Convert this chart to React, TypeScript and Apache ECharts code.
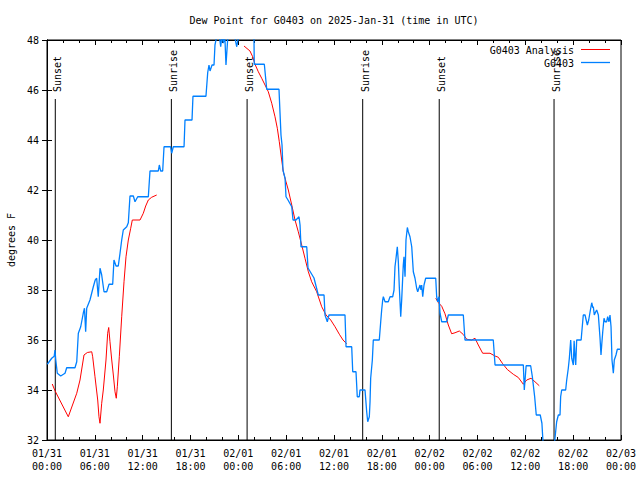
import React, { useEffect, useRef } from "react";
import * as echarts from "echarts";

const titleText = "Dew Point for G0403 on 2025-Jan-31 (time in UTC)";
const yAxisName = "degrees F";
const analysisName = "G0403 Analysis";
const observedName = "G0403";
const dayLabels = ["01/31", "02/01", "02/02", "02/03"];

// hours since 2025-01-31 00:00 UTC, dew point (F)
const observed: [number, number][] = [
  [0.04, 35.03], [0.59, 35.27], [0.9, 35.35], [1.0, 35.6], [1.1, 35.2], [1.29, 34.67], [1.72, 34.56],
  [2.26, 34.67], [2.47, 34.89], [3.51, 34.89], [3.73, 35.13], [3.93, 36.27], [4.23, 36.53], [4.55, 37.07],
  [4.7, 37.27], [4.85, 36.33], [4.98, 37.27], [5.39, 37.6], [5.81, 38.13], [6.05, 38.4], [6.23, 38.47],
  [6.43, 37.73], [6.65, 38.87], [6.86, 38.6], [7.15, 37.93], [7.49, 37.93], [7.78, 38.23], [8.24, 38.23],
  [8.4, 39.2], [8.66, 38.96], [8.94, 38.96], [9.16, 39.47], [9.37, 40.0], [9.57, 40.4], [10.0, 40.53],
  [10.2, 40.69], [10.41, 41.76], [10.83, 41.76], [11.04, 41.53], [11.38, 41.73], [12.71, 41.73],
  [12.92, 42.76], [13.96, 42.76], [14.09, 43.0], [14.26, 42.76], [14.51, 42.76], [14.68, 43.73],
  [15.5, 43.73], [15.64, 43.47], [15.84, 43.73], [17.19, 43.73], [17.31, 44.8], [18.19, 44.8],
  [18.31, 45.75], [19.94, 45.75], [20.16, 46.7], [20.32, 47.0], [20.45, 46.76], [20.7, 47.0],
  [20.95, 47.0], [21.07, 47.8], [21.32, 48.2], [21.6, 48.2], [21.79, 47.73], [21.95, 48.2],
  [22.12, 47.87], [22.3, 48.2], [22.45, 47.0], [22.7, 48.2], [23.5, 48.2], [23.8, 47.73],
  [24.12, 48.3], [25.0, 48.6], [25.95, 48.4], [26.0, 47.03], [27.26, 47.03], [27.56, 46.03],
  [29.1, 46.03], [29.23, 45.07], [29.35, 44.2], [29.48, 43.8], [29.6, 42.8], [29.86, 42.47],
  [29.98, 41.73], [30.23, 41.6], [30.7, 41.33], [30.86, 40.8], [31.23, 40.8], [31.61, 40.93],
  [31.74, 40.6], [31.86, 39.73], [32.58, 39.73], [32.74, 38.88], [33.49, 38.48], [34.03, 37.8],
  [34.75, 37.8], [34.87, 37.0], [35.16, 36.73], [35.37, 37.0], [37.38, 37.0], [37.51, 35.73],
  [38.22, 35.73], [38.35, 34.73], [38.76, 34.73], [38.92, 33.73], [39.17, 33.73], [39.26, 34.0],
  [39.89, 34.0], [40.1, 33.13], [40.23, 32.73], [40.43, 32.93], [40.52, 33.53], [40.6, 34.47],
  [40.81, 35.2], [40.93, 36.0], [41.68, 36.0], [41.86, 36.73], [41.98, 37.2], [42.11, 37.6],
  [42.19, 37.73], [42.4, 37.53], [42.81, 37.53], [43.03, 37.73], [43.36, 37.73], [43.53, 38.0],
  [43.65, 38.93], [43.78, 39.27], [43.94, 39.73], [44.07, 39.13], [44.19, 38.13], [44.37, 36.93],
  [44.49, 37.6], [44.69, 39.0], [44.78, 39.33], [44.91, 38.53], [45.03, 40.0], [45.2, 40.5],
  [45.32, 40.33], [45.53, 40.13], [45.75, 39.73], [45.95, 38.73], [46.16, 38.47], [46.37, 38.07],
  [46.5, 37.93], [46.79, 38.2], [46.91, 38.0], [47.0, 38.2], [47.13, 37.73], [47.29, 38.2],
  [47.5, 38.47], [48.76, 38.47], [48.88, 37.73], [49.01, 37.53], [49.17, 37.73], [49.3, 37.07],
  [49.51, 36.73], [50.14, 36.73], [50.34, 37.0], [52.22, 37.0], [52.43, 36.0], [55.98, 36.0],
  [56.2, 35.0], [59.75, 35.0], [59.87, 34.0], [60.1, 34.97], [60.67, 34.97], [60.88, 34.53],
  [61.17, 33.73], [61.37, 33.0], [61.87, 33.0], [62.08, 32.67], [62.2, 32.0], [62.4, 31.4],
  [63.5, 31.4], [63.72, 32.07], [63.93, 32.73], [64.14, 33.0], [64.35, 33.0], [64.43, 33.73],
  [64.56, 34.0], [65.06, 34.0], [65.19, 34.4], [65.39, 34.87], [65.52, 35.27], [65.69, 36.0],
  [65.82, 35.27], [66.02, 35.0], [66.12, 35.97], [66.24, 35.27], [66.32, 35.0], [66.44, 36.0],
  [67.0, 36.0], [67.07, 36.27], [67.27, 37.0], [67.49, 37.0], [67.61, 36.83], [67.78, 36.6],
  [67.95, 36.8], [68.2, 37.27], [68.33, 37.49], [68.45, 37.3], [68.53, 37.33], [68.65, 37.0],
  [68.83, 37.13], [68.95, 37.2], [69.16, 37.0], [69.37, 36.07], [69.49, 35.4], [69.58, 35.8],
  [69.71, 36.33], [69.87, 36.87], [70.0, 36.73], [70.2, 36.73], [70.33, 36.93], [70.49, 36.73],
  [70.62, 37.0], [70.75, 36.53], [70.87, 35.2], [71.04, 34.67], [71.16, 35.2], [71.37, 35.4],
  [71.54, 35.63], [71.87, 35.63],
];

// null marks a gap in the analysis
const analysis: ([number, number] | null)[] = [
  [0.66, 34.24], [1.0, 33.97], [2.67, 32.93], [3.73, 33.87], [4.14, 34.4], [4.64, 35.4], [5.06, 35.5],
  [5.61, 35.53], [5.73, 35.33], [6.02, 34.53], [6.36, 33.6], [6.52, 32.93], [6.65, 32.67], [6.86, 33.47],
  [7.06, 34.0], [7.4, 35.2], [7.61, 36.27], [7.74, 36.5], [7.9, 35.93], [8.12, 35.2], [8.32, 34.6],
  [8.53, 33.93], [8.69, 33.67], [8.82, 34.13], [9.07, 35.33], [9.37, 36.93], [9.66, 38.33],
  [9.91, 39.33], [10.2, 40.0], [10.5, 40.47], [10.7, 40.8], [11.67, 40.8], [12.08, 41.07],
  [12.38, 41.36], [12.71, 41.6], [13.13, 41.71], [13.76, 41.8],
  null,
  [24.71, 47.76], [25.46, 47.56], [25.8, 47.33], [26.09, 47.03], [26.51, 46.73], [26.93, 46.47],
  [27.35, 46.2], [27.76, 45.93], [28.19, 45.47], [28.6, 44.93], [28.89, 44.47], [29.14, 43.93],
  [29.44, 43.2], [29.64, 42.73], [29.98, 42.33], [30.27, 42.0], [30.7, 41.4], [31.11, 40.8],
  [31.52, 40.33], [31.95, 39.8], [32.36, 39.27], [32.78, 38.73], [33.2, 38.33], [33.83, 37.93],
  [34.46, 37.33], [35.0, 37.0], [35.59, 36.8], [36.13, 36.53], [36.67, 36.23], [37.13, 36.0],
  [37.59, 35.85],
  null,
  [48.76, 37.67], [49.08, 37.5], [49.51, 37.35], [49.92, 37.05], [50.34, 36.6], [50.76, 36.25],
  [51.18, 36.29], [51.72, 36.36], [52.22, 36.22], [52.65, 36.03], [53.27, 36.0], [53.69, 36.07],
  [54.1, 35.8], [54.65, 35.47], [55.57, 35.47], [56.2, 35.36], [56.61, 35.31], [57.16, 35.05],
  [57.74, 34.82], [58.49, 34.63], [59.12, 34.5], [59.75, 34.23], [60.17, 34.4], [60.71, 34.47],
  [61.21, 34.33], [61.75, 34.17],
];

const sunTimes = [1.04, 15.6, 25.1, 39.6, 49.2, 63.6];
const sunLabels = ["Sunset", "Sunrise", "Sunset", "Sunrise", "Sunset", "Sunrise"];
const sunLineTop = 45.64;

const FONT = '"DejaVu Sans Mono", "Liberation Mono", monospace';

function hourLabel(v: number): string {
  const day = Math.floor(v / 24);
  const hh = Math.round(v - day * 24);
  return dayLabels[day] + "\n" + String(hh).padStart(2, "0") + ":00";
}

export default function App() {
  const ref = useRef<HTMLDivElement>(null);
  useEffect(() => {
    if (!ref.current) return;
    const chart = echarts.init(ref.current, null, { renderer: "svg" });
    const axisLine = { show: true, lineStyle: { color: "#000", width: 1 } };
    const xCommon = {
      type: "value" as const,
      min: 0,
      max: 72,
      interval: 6,
      axisLine,
      axisTick: { show: true, inside: true, length: 5, lineStyle: { color: "#000" } },
      minorTick: { show: true, splitNumber: 3, length: 3, lineStyle: { color: "#000" } },
      splitLine: { show: false },
      minorSplitLine: { show: false },
    };
    const yCommon = {
      type: "value" as const,
      min: 32,
      max: 48,
      interval: 2,
      axisLine,
      axisTick: { show: true, inside: true, length: 5, lineStyle: { color: "#000" } },
      splitLine: { show: false },
    };
    chart.setOption({
      animation: false,
      backgroundColor: "#fff",
      grid: {
        left: 47,
        right: 19,
        top: 40,
        bottom: 40,
        containLabel: false,
        outerBoundsMode: "none",
        show: true,
        borderColor: "#000",
        borderWidth: 1,
      },
      xAxis: [
        {
          ...xCommon,
          position: "bottom",
          axisLabel: {
            formatter: hourLabel,
            fontFamily: FONT,
            fontSize: 10,
            color: "#000",
            lineHeight: 13,
            margin: 7,
            showMinLabel: true,
            showMaxLabel: true,
          },
        },
        { ...xCommon, position: "top", axisLabel: { show: false } },
      ],
      yAxis: [
        {
          ...yCommon,
          position: "left",
          name: yAxisName,
          nameLocation: "middle",
          nameGap: 31,
          nameRotate: 90,
          nameTextStyle: { fontFamily: FONT, fontSize: 10, color: "#000" },
          axisLabel: { fontFamily: FONT, fontSize: 10, color: "#000", margin: 8 },
        },
        { ...yCommon, position: "right", axisLabel: { show: false } },
      ],
      series: [
        {
          type: "custom",
          name: "sun",
          silent: true,
          xAxisIndex: 0,
          yAxisIndex: 0,
          encode: { x: 0, y: 1 },
          data: sunTimes.map((t) => [t, 32]),
          renderItem: (params: any, api: any) => {
            const h = api.value(0);
            const p0 = api.coord([h, 32]);
            const p1 = api.coord([h, sunLineTop]);
            return {
              type: "group",
              children: [
                {
                  type: "line",
                  shape: { x1: p0[0], y1: p0[1], x2: p1[0], y2: p1[1] },
                  style: { stroke: "#000", lineWidth: 1 },
                },
                {
                  type: "text",
                  x: p1[0] + 2.5,
                  y: p1[1] - 7,
                  rotation: Math.PI / 2,
                  style: {
                    text: sunLabels[params.dataIndex],
                    font: "10px " + FONT,
                    fill: "#000",
                    align: "left",
                    verticalAlign: "middle",
                  },
                },
              ],
            };
          },
        },
        {
          type: "line",
          name: analysisName,
          data: analysis.map((p) => (p ? p : ["-", "-"])),
          showSymbol: false,
          symbol: "none",
          connectNulls: false,
          lineStyle: { color: "#ff0000", width: 1 },
          itemStyle: { color: "#ff0000" },
          clip: true,
        },
        {
          type: "line",
          name: observedName,
          data: observed,
          showSymbol: false,
          symbol: "none",
          lineStyle: { color: "#0080ff", width: 1.3 },
          itemStyle: { color: "#0080ff" },
          clip: true,
        },
      ],
      graphic: [
        {
          type: "text",
          x: 334,
          y: 20,
          style: { text: titleText, font: "10px " + FONT, fill: "#000", align: "center", verticalAlign: "middle" },
        },
        {
          type: "text",
          x: 574,
          y: 50,
          style: { text: analysisName, font: "10px " + FONT, fill: "#000", align: "right", verticalAlign: "middle" },
        },
        { type: "line", shape: { x1: 581, y1: 49.5, x2: 610, y2: 49.5 }, style: { stroke: "#ff0000", lineWidth: 1 } },
        {
          type: "text",
          x: 574,
          y: 63,
          style: { text: observedName, font: "10px " + FONT, fill: "#000", align: "right", verticalAlign: "middle" },
        },
        { type: "line", shape: { x1: 581, y1: 62.5, x2: 610, y2: 62.5 }, style: { stroke: "#0080ff", lineWidth: 1.3 } },
      ],
    });
    return () => chart.dispose();
  }, []);
  return <div ref={ref} style={{ position: "absolute", left: 0, top: 0, width: 640, height: 480 }} />;
}
